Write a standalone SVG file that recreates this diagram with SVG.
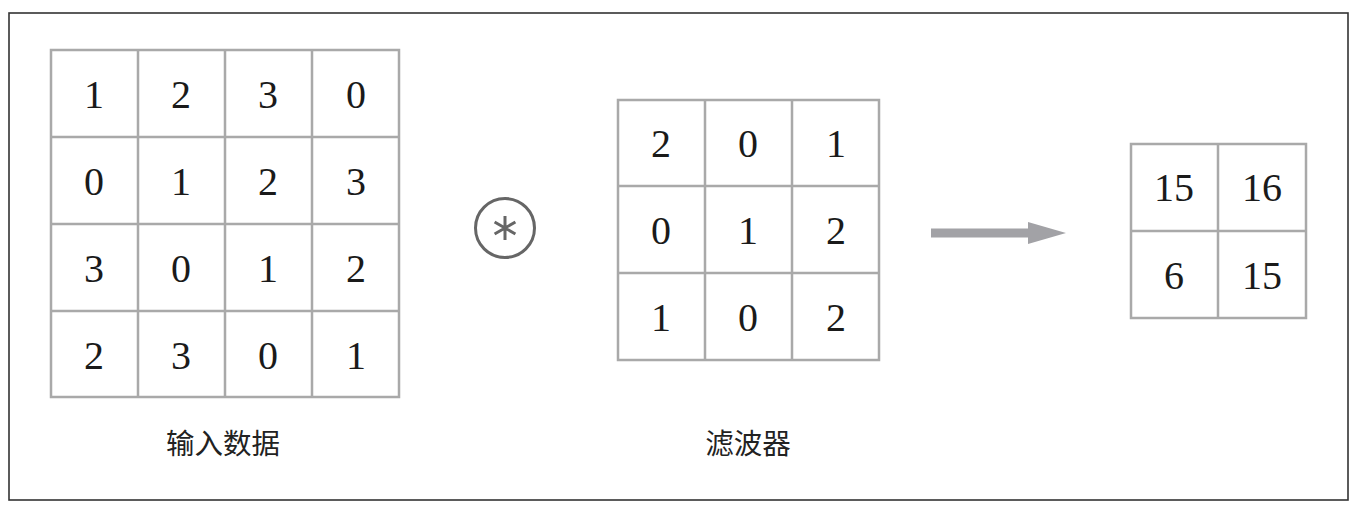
<svg xmlns="http://www.w3.org/2000/svg" width="1356" height="510" viewBox="0 0 1356 510">
<style>
.frame{fill:#fff;stroke:#333;stroke-width:1.6}
.grid{fill:none;stroke:#a9a9a9;stroke-width:2.5}
.num{font-family:"Liberation Serif","DejaVu Serif",serif;font-size:40px;fill:#1a1a1a;text-anchor:middle}
.lbl{font-family:"Liberation Serif","Noto Sans CJK SC",serif;font-size:28.5px;fill:#222;text-anchor:middle}
</style>
<rect class="frame" x="9" y="13" width="1339" height="487"/>
<g id="input">
<rect class="grid" x="51" y="50" width="348" height="347"/>
<path class="grid" d="M138 50V397M225 50V397M312 50V397M51 137H399M51 224H399M51 311H399"/>
<g class="num">
<text x="94" y="108">1</text><text x="181" y="108">2</text><text x="268" y="108">3</text><text x="356" y="108">0</text>
<text x="94" y="195">0</text><text x="181" y="195">1</text><text x="268" y="195">2</text><text x="356" y="195">3</text>
<text x="94" y="282">3</text><text x="181" y="282">0</text><text x="268" y="282">1</text><text x="356" y="282">2</text>
<text x="94" y="369">2</text><text x="181" y="369">3</text><text x="268" y="369">0</text><text x="356" y="369">1</text>
</g>
<text class="lbl" x="223" y="454">输入数据</text>
</g>
<g id="conv">
<circle cx="505" cy="228" r="29.5" fill="none" stroke="#666" stroke-width="3"/>
<path d="M505 216V240M494.6 222L515.4 234M494.6 234L515.4 222" stroke="#666" stroke-width="3" fill="none"/>
</g>
<g id="filter">
<rect class="grid" x="618" y="100" width="261" height="260"/>
<path class="grid" d="M705 100V360M792 100V360M618 186H879M618 273H879"/>
<g class="num">
<text x="661" y="157">2</text><text x="748" y="157">0</text><text x="836" y="157">1</text>
<text x="661" y="244">0</text><text x="748" y="244">1</text><text x="836" y="244">2</text>
<text x="661" y="331">1</text><text x="748" y="331">0</text><text x="836" y="331">2</text>
</g>
<text class="lbl" x="748" y="454">滤波器</text>
</g>
<g id="connectors">
<path d="M931 228.5H1028V222L1066 233L1028 244V237.5H931Z" fill="#a2a2a6"/>
</g>
<g id="output">
<rect class="grid" x="1131" y="144" width="175" height="174"/>
<path class="grid" d="M1218 144V318M1131 231H1306"/>
<g class="num">
<text x="1174" y="201">15</text><text x="1262" y="201">16</text>
<text x="1174" y="289">6</text><text x="1262" y="289">15</text>
</g>
</g>
</svg>
